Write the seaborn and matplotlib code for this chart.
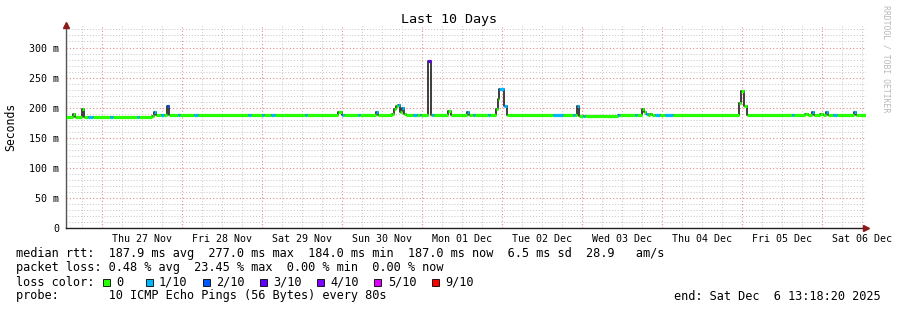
import numpy as np
import pandas as pd
import matplotlib
matplotlib.use("Agg")
import matplotlib.pyplot as plt
import seaborn as sns
from matplotlib.patches import Rectangle
from matplotlib.ticker import MultipleLocator, FuncFormatter

# ---------------- data ----------------
# time axis: days since 2025-11-26 00:00 (local)
t_start = 0.5544   # Wed 26 Nov 13:18:20
t_end = 10.5544    # Sat 06 Dec 13:18:20

times = [0.5544, 0.6375, 0.6625, 0.75, 0.775, 0.825, 0.8875, 1.1, 1.1375, 1.4375,
         1.4625, 1.625, 1.65, 1.675, 1.7375, 1.775, 1.8125, 1.8375, 1.95, 1.975,
         2.15, 2.2, 2.825, 2.8625, 3.0, 3.025, 3.1125, 3.1625, 3.5375, 3.5625,
         3.95, 4.0, 4.025, 4.2, 4.225, 4.425, 4.45, 4.625, 4.65, 4.675,
         4.7, 4.725, 4.75, 4.775, 4.8, 4.8875, 4.9375, 4.975, 4.9875, 5.075,
         5.10625, 5.125, 5.15, 5.325, 5.35625, 5.5625, 5.5875, 5.6375, 5.6625, 5.825,
         5.85, 5.925, 5.95, 5.9625, 6.025, 6.05625, 6.6375, 6.7625, 6.8875, 6.9125,
         6.9375, 6.9625, 7.0125, 7.0375, 7.45, 7.475, 7.6625, 7.6875, 7.75, 7.775,
         7.8, 7.825, 7.85, 7.875, 7.9125, 7.975, 8.0375, 8.1375, 8.9625, 8.9875,
         9.025, 9.0625, 9.625, 9.65, 9.7875, 9.825, 9.875, 9.9, 9.975, 10.0125,
         10.05, 10.075, 10.1375, 10.1875, 10.4, 10.425]

median_ms = [185, 190, 185, 197, 185, 184, 184, 184, 184, 184,
             184, 186, 193, 187, 188, 187, 203, 188, 188, 188,
             188, 188, 187, 187, 187, 187, 187, 187, 187, 187,
             193, 188, 187, 187, 187, 192, 187, 190, 198, 203,
             204, 193, 200, 190, 187, 187, 187, 187, 187, 277,
             187, 187, 187, 194, 187, 193, 187, 187, 187, 187,
             187, 198, 215, 231, 203, 187, 187, 187, 187, 187,
             202, 186, 186, 186, 187, 187, 187, 187, 198, 193,
             190, 188, 190, 187, 187, 187, 187, 187, 208, 227,
             203, 187, 187, 187, 190, 187, 192, 187, 190, 187,
             192, 187, 187, 187, 192, 187]

lost_pings = [0, 0, 0, 0, 0, 1, 0, 1, 0, 1,
              0, 0, 1, 0, 1, 0, 2, 0, 1, 0,
              1, 0, 1, 0, 1, 0, 1, 0, 1, 0,
              0, 1, 0, 1, 0, 1, 0, 0, 0, 0,
              1, 0, 1, 0, 0, 1, 0, 1, 0, 3,
              0, 1, 0, 0, 0, 1, 0, 1, 0, 1,
              0, 0, 0, 1, 1, 0, 1, 0, 1, 0,
              1, 0, 1, 0, 1, 0, 1, 0, 0, 0,
              1, 0, 0, 0, 1, 0, 1, 0, 0, 0,
              0, 0, 1, 0, 0, 0, 1, 0, 0, 0,
              1, 0, 1, 0, 1, 0]

day_labels = ["Thu 27 Nov", "Fri 28 Nov", "Sat 29 Nov", "Sun 30 Nov", "Mon 01 Dec",
              "Tue 02 Dec", "Wed 03 Dec", "Thu 04 Dec", "Fri 05 Dec", "Sat 06 Dec"]

loss_levels = [0, 1, 2, 3, 4, 5, 9]
loss_labels = ["0", "1/10", "2/10", "3/10", "4/10", "5/10", "9/10"]
loss_colors = ["#26ff00", "#00b8ff", "#0059ff", "#5e00ff", "#7e00ff", "#dd00ff", "#ff0000"]

stats_lines = [
    "median rtt:  187.9 ms avg  277.0 ms max  184.0 ms min  187.0 ms now  6.5 ms sd  28.9   am/s",
    "packet loss: 0.48 % avg  23.45 % max  0.00 % min  0.00 % now",
    "loss color:",
    "probe:       10 ICMP Echo Pings (56 Bytes) every 80s",
]
end_text = "end: Sat Dec  6 13:18:20 2025"
title = "Last 10 Days"

# ---------------- figure ----------------
sns.set_theme(style="white")
plt.rcParams["font.family"] = ["DejaVu Sans Mono", "DejaVu Sans"]

W, H = 897, 310
fig = plt.figure(figsize=(W / 100, H / 100), dpi=100, facecolor="white")

def fx(px):
    return px / W

def fy(py):
    return 1 - py / H

ymax = 338
ax_left, ax_right, ax_bottom = 66.4, 866.4, 228
ax_top = ax_bottom - ymax * (180.5 / 300)
ax = fig.add_axes([fx(ax_left), fy(ax_bottom), (ax_right - ax_left) / W,
                   (ax_bottom - ax_top) / H])
ax.set_facecolor("white")

df = pd.DataFrame({"t": times + [t_end], "ms": median_ms + [median_ms[-1]]})
sns.lineplot(data=df, x="t", y="ms", drawstyle="steps-post", color="#1c1c1c",
             lw=1.2, estimator=None, sort=False, ax=ax, zorder=3)

color_of = dict(zip(loss_levels, loss_colors))
seg_end = times[1:] + [t_end]
for a, b, v, l in zip(times, seg_end, median_ms, lost_pings):
    ax.hlines(v, a, b, color=color_of[l], lw=2.3, zorder=4, capstyle="butt")

ax.set_xlim(t_start, t_end)
ax.set_ylim(0, ymax)

# grid
ax.xaxis.set_major_locator(MultipleLocator(1.0))
ax.xaxis.set_minor_locator(MultipleLocator(0.25))
ax.yaxis.set_major_locator(MultipleLocator(50))
ax.yaxis.set_minor_locator(MultipleLocator(10))

ax.grid(which="major", color="#e38d8d", lw=0.8, ls=(0, (1, 2)), zorder=1)
ax.grid(which="minor", color="#c4c4c4", lw=0.7, ls=(0, (1, 2)), zorder=0)

lab_map = {i + 1.5: s for i, s in enumerate(day_labels)}

def minor_fmt(v, pos):
    for k, s in lab_map.items():
        if abs(v - k) < 1e-6:
            return s
    return ""

ax.xaxis.set_major_formatter(FuncFormatter(lambda v, p: ""))
ax.xaxis.set_minor_formatter(FuncFormatter(minor_fmt))
ax.yaxis.set_major_formatter(FuncFormatter(lambda v, p: "0" if v == 0 else f"{int(v)} m"))

ax.tick_params(axis="x", which="both", length=0, pad=4, labelsize=7.2, colors="black")
ax.tick_params(axis="x", which="major", length=2, direction="out", color="#555555")
ax.tick_params(axis="y", which="major", length=3, width=0.8, direction="out",
               color="#777777", pad=2, labelsize=7.2, labelcolor="black")
ax.tick_params(axis="y", which="minor", length=1.5, width=0.6, direction="out",
               color="#aaaaaa")
ax.set_xlabel("")
ax.set_ylabel("")

for s in ["top", "right"]:
    ax.spines[s].set_visible(False)
ax.spines["left"].set_color("#555555")
ax.spines["bottom"].set_color("#222222")
ax.spines["left"].set_linewidth(1.0)
ax.spines["bottom"].set_linewidth(1.0)

# axis arrows
ax.plot([0], [1.0], transform=ax.transAxes, marker="^", ms=5, color="#8b1a1a",
        clip_on=False, zorder=6)
ax.plot([1.0], [0], transform=ax.transAxes, marker=">", ms=5, color="#8b1a1a",
        clip_on=False, zorder=6)

# texts
fig.text(0.5, fy(23.5), title, ha="center", va="baseline", fontsize=9.6, color="black")
fig.text(fx(11), fy(127), "Seconds", rotation=90, ha="center", va="center",
         fontsize=8.3, color="black")
fig.text(fx(886), fy(59), "RRDTOOL / TOBI OETIKER", rotation=270, ha="center",
         va="center", fontsize=5.9, color="#b8b8b8")

baselines = [257.5, 271.5, 285.5, 299.5]
fs = 8.55
for line, b in zip(stats_lines, baselines):
    fig.text(fx(16), fy(b), line, ha="left", va="baseline", fontsize=fs, color="black")
fig.text(fx(881), fy(baselines[3]), end_text, ha="right", va="baseline",
         fontsize=fs, color="black")

cw = 7.15
for k, (lab, col) in enumerate(zip(loss_labels, loss_colors)):
    n = 12 if k == 0 else 18 + 8 * (k - 1)
    bx = 16 + n * cw + 0.8
    fig.patches.append(Rectangle((fx(bx), fy(285.5)), 7 / W, 7 / H,
                                 transform=fig.transFigure, facecolor=col,
                                 edgecolor="black", lw=0.6))
    fig.text(fx(16 + (n + 2) * cw), fy(285.5), lab, ha="left", va="baseline",
             fontsize=fs, color="black")

fig.savefig("out.png", dpi=100, facecolor="white")
